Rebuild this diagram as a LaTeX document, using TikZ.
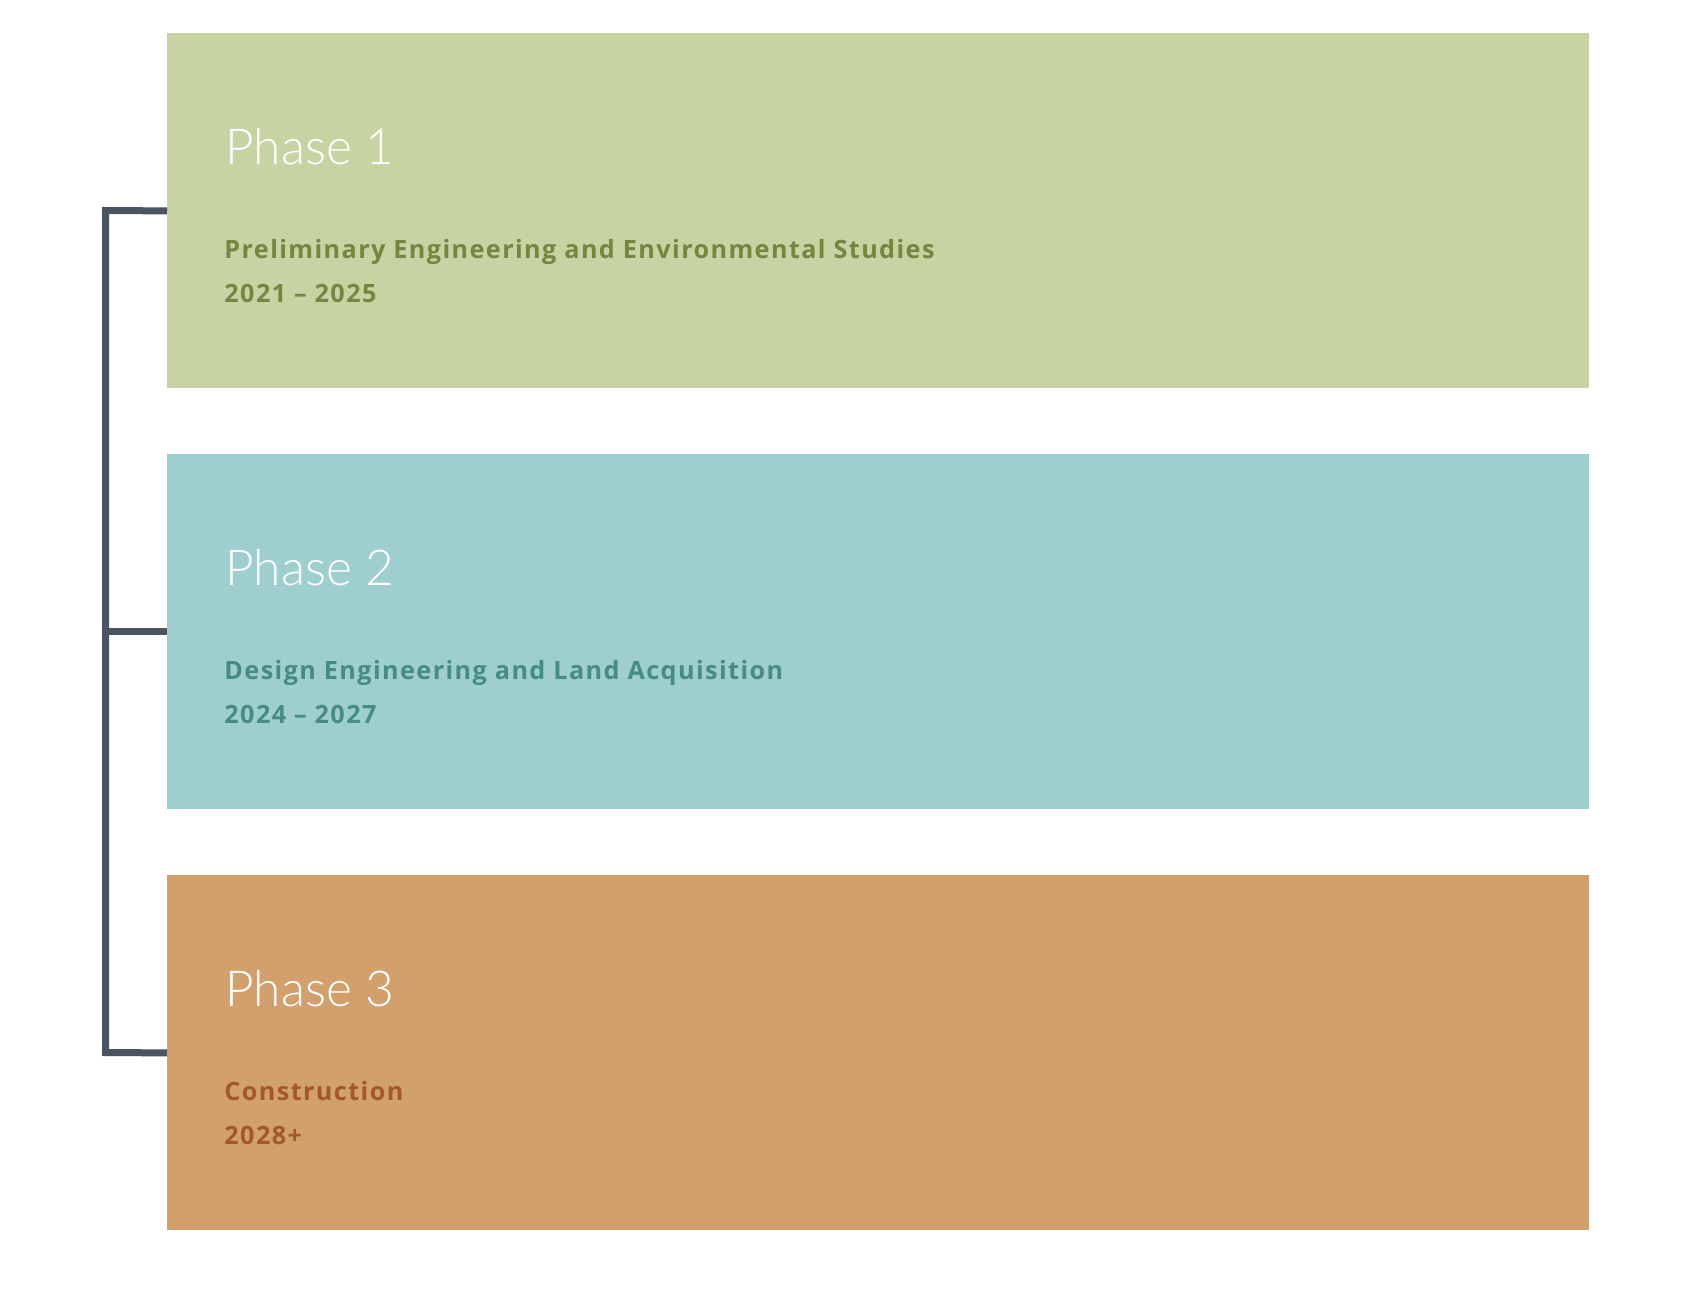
\documentclass[tikz,border=0pt]{standalone}
\usepackage{fontspec}
\setmainfont{Lato}
\newfontfamily\lightfont{Lato Light}
\newfontfamily\subfont[LetterSpace=5.6]{Open Sans}
\definecolor{gbox}{HTML}{C7D3A2}
\definecolor{gtxt}{HTML}{778540}
\definecolor{tbox}{HTML}{9ECFCE}
\definecolor{ttxt}{HTML}{468B84}
\definecolor{obox}{HTML}{D1A06D}
\definecolor{otxt}{HTML}{A3582A}
\definecolor{brk}{HTML}{4B5561}
\tikzset{
  phasebox/.style={draw=none, minimum width=711pt, minimum height=177.5pt, inner sep=0pt, anchor=north west},
  phasetitle/.style={anchor=base west, inner sep=0pt, text=white, font=\lightfont\fontsize{24.8}{30}\selectfont},
  phasesub/.style={anchor=base west, inner sep=0pt, align=left, font=\subfont\bfseries\fontsize{12.6}{22}\selectfont},
  bracket/.style={draw=brk, line width=3.5pt, line join=miter, line cap=butt}
}
\begin{document}
\begin{tikzpicture}[x=0.5pt,y=-0.5pt]
\useasboundingbox[fill=white] (0,0) rectangle (1692,1292);
\node[phasebox, fill=gbox] (p1) at (167,33) {};
\node[phasebox, fill=tbox] (p2) at (167,454) {};
\node[phasebox, fill=obox] (p3) at (167,875) {};
\node[phasetitle] (t1) at (225,164) {Phase 1};
\node[phasetitle] (t2) at (225,585) {Phase 2};
\node[phasetitle] (t3) at (225,1006) {Phase 3};
\node[phasesub, text=gtxt] (s1) at (224,302) {Preliminary Engineering and Environmental Studies\\2021 – 2025};
\node[phasesub, text=ttxt] (s2) at (224,723) {Design Engineering and Land Acquisition\\2024 – 2027};
\node[phasesub, text=otxt] (s3) at (224,1144) {Construction\\2028+};
\coordinate (bt) at (105.5,210.5);
\coordinate (bb) at (105.5,1052.5);
\draw[bracket] (p1.west) -- (bt) -- (bb) -- (p3.west);
\draw[bracket] (p2.west) -- (p2.west -| bt);
\end{tikzpicture}
\end{document}
